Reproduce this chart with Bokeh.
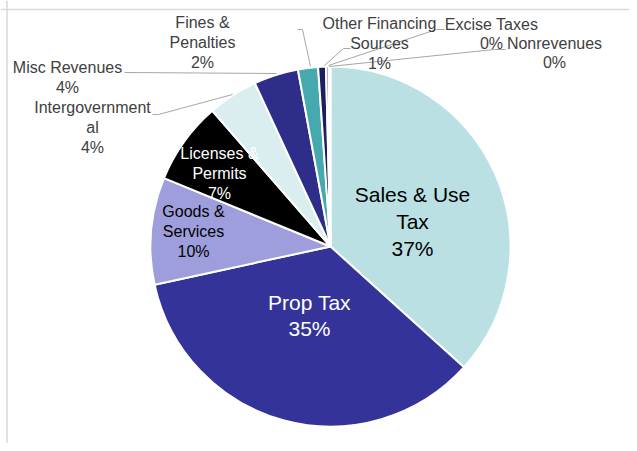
import math
from bokeh.plotting import figure
from bokeh.models import Range1d, Span, ColumnDataSource
from bokeh.core.properties import value
from bokeh.embed import file_html
from bokeh.resources import INLINE

# ---- data ----
categories = ["Sales & Use Tax", "Prop Tax", "Goods & Services", "Licenses & Permits",
              "Intergovernmental", "Misc Revenues", "Fines & Penalties",
              "Other Financing Sources", "Excise Taxes", "Nonrevenues"]
shares = [36.7, 34.9, 9.6, 7.4, 4.5, 4.0, 1.8, 0.7, 0.25, 0.15]
label_names = ["Sales & Use\nTax", "Prop Tax", "Goods &\nServices", "Licenses &\nPermits",
               "Intergovernment\nal", "Misc Revenues", "Fines &\nPenalties",
               "Other Financing\nSources", "Excise Taxes", "Nonrevenues"]

# ---- styles / layout ----
colors = ["#BAE0E3", "#343399", "#9E9EDC", "#000000", "#DAEEF0",
          "#2E2E8A", "#47A9B0", "#1F1F5C", "#7F7FBF", "#5FB5BB"]
W, H = 629, 443
cx, cy, R = 330, 246, 180          # picture px
label_pos = [(412, 221), (309, 315), (193, 231), (219, 173), (92, 127),
             (67, 77), (202, 42), (379, 43), (491, 33.5), (554, 52.5)]
label_size = ["21px", "21px", "16px", "16px", "16px", "16px", "16px", "16px", "16px", "16px"]
label_color = ["#000000", "#FFFFFF", "#000000", "#FFFFFF", "#404040",
               "#404040", "#404040", "#404040", "#404040", "#404040"]
leaders = {
    4: [(152, 114), (158, 114), (232, 94)],
    5: [(124, 72), (276, 73)],
    6: [(297, 29), (302, 29), (310, 66)],
    7: [(350, 48), (343, 48), (324, 65)],
    8: [(444, 29), (436, 29), (328, 65)],
    9: [(505, 49), (494, 49), (329, 66)],
}

def sy(y):  # picture y (down) -> data y (up)
    return H - y

p = figure(width=W, height=H, output_backend="svg", toolbar_location=None,
           x_range=Range1d(0, W), y_range=Range1d(0, H), min_border=0)
p.axis.visible = False
p.grid.visible = False
p.outline_line_color = None
p.background_fill_color = "white"
p.border_fill_color = "white"

total = sum(shares)
starts, ends = [], []
cum = 0.0
for s in shares:
    starts.append(math.pi / 2 - 2 * math.pi * cum / total)
    cum += s
    ends.append(math.pi / 2 - 2 * math.pi * cum / total)

src = ColumnDataSource(dict(cat=categories, start=starts, end=ends, color=colors))
p.wedge(x=cx, y=sy(cy), radius=R, start_angle="start", end_angle="end",
        direction="clock", fill_color="color", line_color="white", line_width=2,
        source=src)

for i, pts in leaders.items():
    p.line([q[0] for q in pts], [sy(q[1]) for q in pts], line_color="#A6A6A6", line_width=1)

for i, name in enumerate(label_names):
    txt = f"{name}\n{round(shares[i])}%"
    x, y = label_pos[i]
    p.text(x=[x], y=[sy(y)], text=[txt], text_align="center", text_baseline="middle",
           text_font=value("Liberation Sans"), text_font_size=label_size[i],
           text_color=label_color[i], text_line_height=1.16)

# chart-area border (left and top visible)
p.add_layout(Span(location=6.5, dimension="height", line_color="#D9D9D9", line_width=1.5))
p.add_layout(Span(location=sy(9), dimension="width", line_color="#D9D9D9", line_width=1.5))

open("out.html", "w").write(file_html(p, INLINE))
